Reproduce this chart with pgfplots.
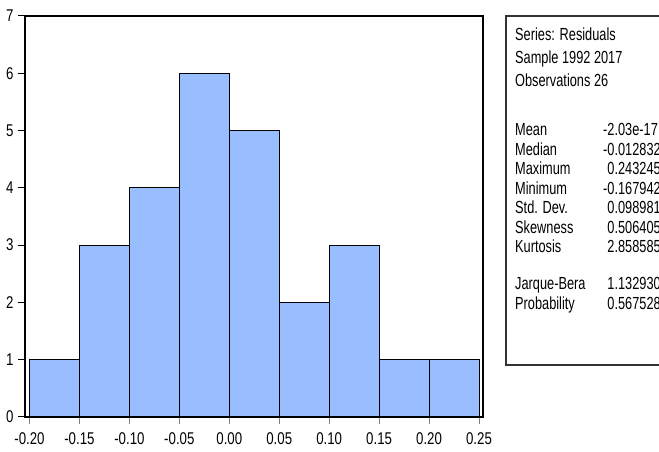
\documentclass[border=0pt]{standalone}
\usepackage{pgfplots}
\pgfplotsset{compat=1.18}
\usepackage{fontspec}
\setmainfont{Liberation Sans}
\newfontfamily\narrowfont[FakeStretch=0.73]{Liberation Sans}
\newfontfamily\ticknarrowfont[FakeStretch=0.78]{Liberation Sans}
\newcommand{\chartfont}{\narrowfont\fontsize{17.5bp}{19bp}\selectfont}
\newcommand{\tickfont}{\ticknarrowfont\fontsize{17bp}{19bp}\selectfont}
\definecolor{barblue}{RGB}{153,190,255}

\begin{document}
\begin{tikzpicture}[x=1bp,y=1bp]
\useasboundingbox (0,0) rectangle (659,452);
\begin{axis}[
  at={(25bp,35bp)}, anchor=south west,
  scale only axis, width=458bp, height=401bp,
  xmin=-0.2045, xmax=0.254, ymin=0, ymax=7,
  axis line style={line width=1.3bp, black},
  tick align=outside,
  major tick length=7bp,
  xtick pos=bottom, ytick pos=left,
  xtick={-0.2,-0.15,-0.1,-0.05,0,0.05,0.1,0.15,0.2,0.25},
  xticklabels={-0.20,-0.15,-0.10,-0.05,0.00,0.05,0.10,0.15,0.20,0.25},
  ytick={0,1,2,3,4,5,6,7},
  yticklabels={0,1,2,3,4,5,6,7},
  x tick style={gray, line width=1bp},
  y tick style={black, line width=1bp},
  ticklabel style={font=\tickfont},
  xticklabel style={yshift=-5bp},
  yticklabel style={xshift=-1bp},
  axis on top,
]
\addplot[ybar interval, fill=barblue, draw=black, line width=0.9bp] coordinates {
  (-0.20,1) (-0.15,3) (-0.10,4) (-0.05,6) (0.00,5) (0.05,2) (0.10,3) (0.15,1) (0.20,1) (0.25,1)
};
\end{axis}
\draw[line width=1.2bp, black!80] (506,87) rectangle (672,436);
\begin{scope}[every node/.style={anchor=base west, inner sep=0pt, font=\chartfont}]
\node at (515,411) {Series: Residuals};
\node at (515,388) {Sample 1992 2017};
\node at (515,365.5) {Observations 26};
\node at (515,316) {Mean};        \node at (603,316) {-2.03e-17};
\node at (515,296.5) {Median};    \node at (603,296.5) {-0.012832};
\node at (515,277) {Maximum};     \node at (603,277) {\phantom{-}0.243245};
\node at (515,257.5) {Minimum};   \node at (603,257.5) {-0.167942};
\node at (515,238) {Std. Dev.};   \node at (603,238) {\phantom{-}0.098981};
\node at (515,218.5) {Skewness};  \node at (603,218.5) {\phantom{-}0.506405};
\node at (515,199) {Kurtosis};    \node at (603,199) {\phantom{-}2.858585};
\node at (515,162) {Jarque-Bera}; \node at (603,162) {\phantom{-}1.132930};
\node at (515,142.5) {Probability}; \node at (603,142.5) {\phantom{-}0.567528};
\end{scope}
\end{tikzpicture}
\end{document}
